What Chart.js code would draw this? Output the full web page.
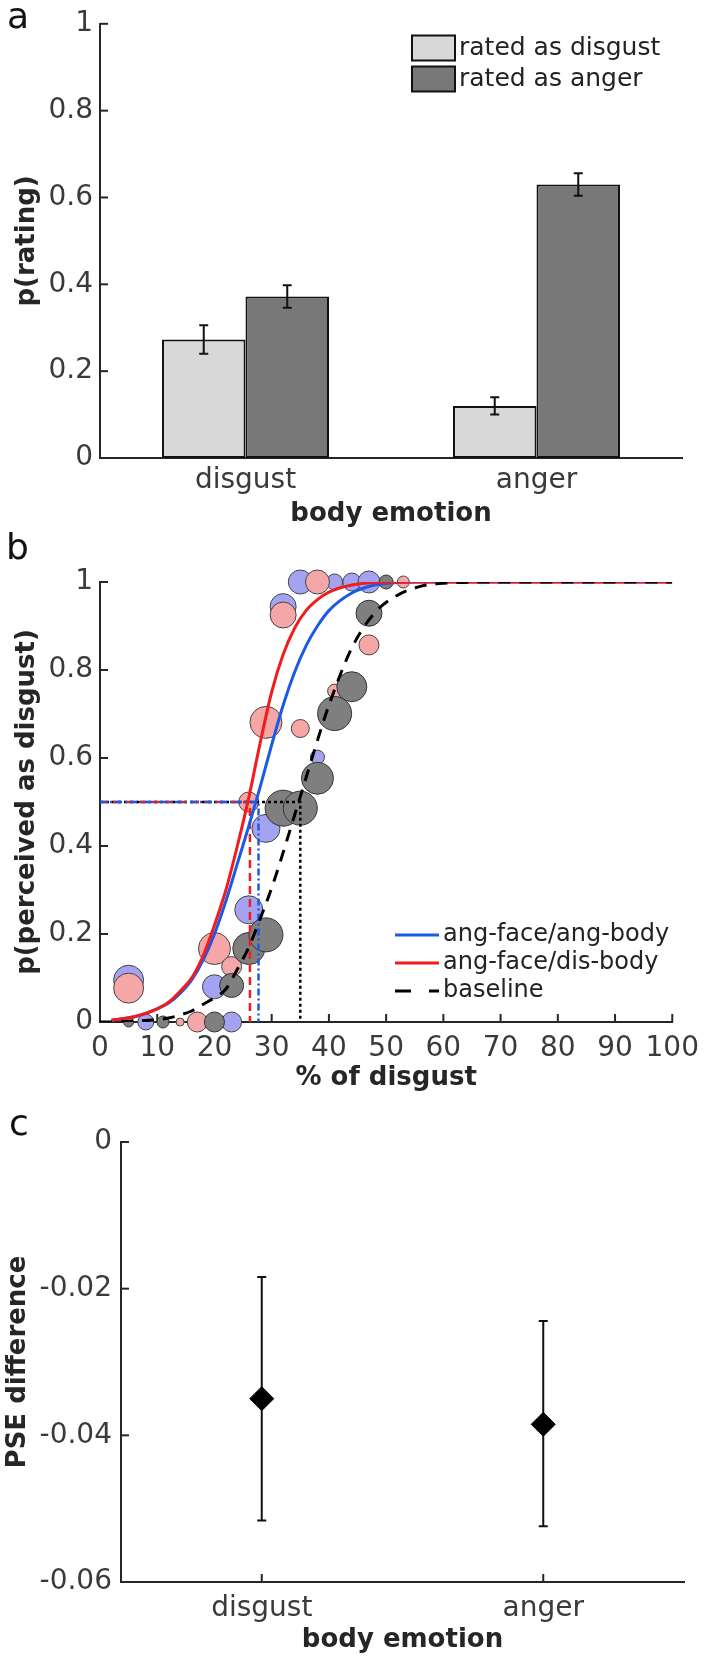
<!DOCTYPE html>
<html>
<head>
<meta charset="utf-8">
<script src="https://cdn.jsdelivr.net/npm/chart.js@4.4.1/dist/chart.umd.min.js"></script>
<style>
  html, body { margin: 0; padding: 0; background: #fff; }
  #page { position: relative; width: 709px; height: 1660px; overflow: hidden; font-family: "DejaVu Sans", sans-serif; }
  canvas { position: absolute; left: 0; }
  .tag { position: absolute; font-size: 36px; line-height: 36px; color: #111; }
</style>
</head>
<body>
<div id="page">
  <canvas id="chartA" width="709" height="530" style="top:0;width:709px;height:530px"></canvas>
  <canvas id="chartB" width="709" height="570" style="top:530px;width:709px;height:570px"></canvas>
  <canvas id="chartC" width="709" height="560" style="top:1100px;width:709px;height:560px"></canvas>
  <div class="tag" style="left:7px;top:-2px">a</div>
  <div class="tag" style="left:6px;top:529px">b</div>
  <div class="tag" style="left:9px;top:1105px">c</div>
</div>
<script>
// ---- panel a : ratings per body emotion
const bodyEmotions = ['disgust', 'anger'];
const ratedDisgust = [0.273, 0.120];
const ratedDisgustErr = [0.033, 0.020];
const ratedAnger = [0.372, 0.630];
const ratedAngerErr = [0.026, 0.026];
const probTicks = [0, 0.2, 0.4, 0.6, 0.8, 1];

// ---- panel b : psychometric data (bubble size = weight)
const pctTicks = [0, 10, 20, 30, 40, 50, 60, 70, 80, 90, 100];
const blueX = [5, 8, 20, 23, 26, 29, 32, 35, 38, 41, 44, 47];
const blueY = [0.095, 0, 0.08, 0, 0.255, 0.44, 0.944, 1, 0.602, 1, 1, 1];
const blueR = [15, 8, 12, 10, 14, 14, 13, 12, 7, 8, 9, 11];
const pinkX = [5, 14, 17, 20, 23, 26, 29, 32, 35, 38, 41, 47, 53];
const pinkY = [0.077, 0, 0, 0.167, 0.126, 0.50, 0.681, 0.925, 0.667, 1, 0.752, 0.857, 1];
const pinkR = [15, 4, 10, 16, 10, 10, 16, 13, 9, 12, 7, 10, 6];
const grayX = [5, 11, 20, 23, 26, 29, 32, 35, 38, 41, 44, 47, 50];
const grayY = [0, 0, 0, 0.083, 0.167, 0.198, 0.486, 0.486, 0.554, 0.701, 0.762, 0.929, 1];
const grayR = [5, 6, 10, 12, 16, 17, 18, 17, 16, 17, 15, 13, 7];

// fitted curves
const fitX    = [0, 2, 6, 10, 12, 14, 16, 18, 20, 22, 24, 26, 28, 30, 32, 34, 36, 38, 40, 44, 48, 52, 56, 60, 70, 80, 90, 100];
const fitBlue = [null, 0.004, 0.012, 0.03, 0.043, 0.065, 0.095, 0.14, 0.20, 0.275, 0.36, 0.445, 0.535, 0.63, 0.72, 0.795, 0.855, 0.90, 0.935, 0.975, 0.993, 0.999, 1, 1, 1, 1, 1, 1];
const fitRed  = [null, 0.004, 0.012, 0.03, 0.045, 0.07, 0.10, 0.15, 0.22, 0.30, 0.40, 0.51, 0.635, 0.75, 0.835, 0.895, 0.935, 0.96, 0.977, 0.993, 0.999, 1, 1, 1, 1, 1, 1, 1];
const fitBase = [0, 0, 0.002, 0.005, 0.009, 0.016, 0.025, 0.04, 0.055, 0.075, 0.12, 0.17, 0.235, 0.305, 0.385, 0.47, 0.555, 0.64, 0.72, 0.85, 0.93, 0.97, 0.99, 0.997, 1, 1, 1, 1];
// PSE per condition: ang-face/ang-body, ang-face/dis-body, baseline
const pse = [27.7, 26.2, 35.0];

// ---- panel c : PSE difference
const pseDiff = [-0.0350, -0.0385];
const pseLow  = [-0.0516, -0.0524];
const pseHigh = [-0.0184, -0.0244];
const pseTicks = [-0.06, -0.04, -0.02, 0];

Chart.defaults.font.family = '"DejaVu Sans", sans-serif';
Chart.defaults.font.size = 28;
Chart.defaults.color = '#3a3a3a';

const axisColor = '#262626';
const axisBorder = { display: true, color: axisColor, width: 2 };
const titleFont = { size: 26, weight: 'bold' };

// matlab style ticks pointing into the plot
const inwardTicks = {
  id: 'inwardTicks',
  beforeDatasetsDraw(chart, args, o) {
    const ctx = chart.ctx, area = chart.chartArea;
    ctx.save();
    ctx.strokeStyle = axisColor;
    ctx.lineWidth = 2;
    (o.axes || []).forEach(id => {
      const s = chart.scales[id];
      s.ticks.forEach((t, i) => {
        const p = s.getPixelForTick(i);
        ctx.beginPath();
        if (s.isHorizontal()) { ctx.moveTo(p, area.bottom); ctx.lineTo(p, area.bottom - o.len); }
        else { ctx.moveTo(area.left, p); ctx.lineTo(area.left + o.len, p); }
        ctx.stroke();
      });
    });
    ctx.restore();
  }
};

function drawErrors(chart, o) {
  const ctx = chart.ctx, ys = chart.scales.y;
  ctx.save();
  ctx.strokeStyle = '#111';
  ctx.lineWidth = 2;
  o.sets.forEach(s => {
    const meta = chart.getDatasetMeta(s.dataset);
    const vals = chart.data.datasets[s.dataset].data;
    meta.data.forEach((el, i) => {
      const lo = ys.getPixelForValue(s.low ? s.low[i] : vals[i] - s.err[i]);
      const hi = ys.getPixelForValue(s.high ? s.high[i] : vals[i] + s.err[i]);
      ctx.beginPath();
      ctx.moveTo(el.x, lo); ctx.lineTo(el.x, hi);
      ctx.moveTo(el.x - o.cap, lo); ctx.lineTo(el.x + o.cap, lo);
      ctx.moveTo(el.x - o.cap, hi); ctx.lineTo(el.x + o.cap, hi);
      ctx.stroke();
    });
  });
  ctx.restore();
}
const errorBars = {
  id: 'errorBars',
  beforeDatasetsDraw(chart, args, o) { if (o.sets && o.under) drawErrors(chart, o); },
  afterDatasetsDraw(chart, args, o) { if (o.sets && !o.under) drawErrors(chart, o); }
};

// legend drawn inside the axes like matlab
const boxLegend = {
  id: 'boxLegend',
  afterDraw(chart, args, o) {
    if (!o.items) return;
    const ctx = chart.ctx;
    ctx.save();
    ctx.font = o.size + 'px "DejaVu Sans"';
    ctx.textBaseline = 'middle';
    o.items.forEach((d, i) => {
      const ds = chart.data.datasets[d];
      const y = o.y + i * o.step;
      if (o.kind === 'box') {
        ctx.fillStyle = ds.backgroundColor;
        ctx.fillRect(o.x, y - o.h / 2, o.w, o.h);
        ctx.strokeStyle = '#111';
        ctx.lineWidth = 2;
        ctx.strokeRect(o.x, y - o.h / 2, o.w, o.h);
      } else {
        ctx.strokeStyle = ds.borderColor;
        ctx.lineWidth = 3;
        ctx.setLineDash(ds.legendDash || []);
        ctx.beginPath();
        ctx.moveTo(o.x, y); ctx.lineTo(o.x + o.w, y);
        ctx.stroke();
        ctx.setLineDash([]);
      }
      ctx.fillStyle = '#222';
      ctx.fillText(ds.label, o.x + o.w + o.gap, y);
    });
    ctx.restore();
  }
};

const setTicks = arr => s => { s.ticks = arr.map(v => ({ value: v })); };
const baseOpts = { responsive: false, animation: false, events: [] };

// ---------------- panel a
new Chart(document.getElementById('chartA'), {
  type: 'bar',
  data: {
    labels: bodyEmotions,
    datasets: [
      { label: 'rated as disgust', data: ratedDisgust, backgroundColor: '#d8d8d8', borderColor: '#111', borderWidth: 2, borderSkipped: false, categoryPercentage: 0.574, barPercentage: 1 },
      { label: 'rated as anger', data: ratedAnger, backgroundColor: '#787878', borderColor: '#111', borderWidth: 2, borderSkipped: false, categoryPercentage: 0.574, barPercentage: 1 }
    ]
  },
  options: {
    ...baseOpts,
    layout: { padding: { top: 18, right: 27, bottom: 0, left: 0 } },
    plugins: {
      legend: { display: false }, tooltip: { enabled: false },
      inwardTicks: { axes: ['y'], len: 8 },
      errorBars: { cap: 4.5, sets: [{ dataset: 0, err: ratedDisgustErr }, { dataset: 1, err: ratedAngerErr }] },
      boxLegend: { kind: 'box', items: [0, 1], x: 412, y: 48, step: 31, w: 43, h: 25, gap: 4, size: 25 }
    },
    scales: {
      x: {
        grid: { display: false, drawTicks: false }, border: axisBorder,
        ticks: { padding: 6 },
        title: { display: true, text: 'body emotion', font: titleFont, color: '#262626', padding: { top: 0, bottom: 0 } },
        afterFit: s => { s.height = 72; }
      },
      y: {
        min: 0, max: 1, afterBuildTicks: setTicks(probTicks),
        grid: { display: false, drawTicks: false }, border: axisBorder,
        ticks: { padding: 7, callback: v => String(v) },
        title: { display: true, text: 'p(rating)', font: titleFont, color: '#262626', padding: { top: 12, bottom: 0 } },
        afterFit: s => { s.width = 100; }
      }
    }
  },
  plugins: [inwardTicks, errorBars, boxLegend]
});

// ---------------- panel b
const pts = (xs, ys, rs) => xs.map((x, i) => ({ x: x, y: ys[i], r: rs[i] }));
const fit = ys => fitX.map((x, i) => ({ x: x, y: ys[i] })).filter(p => p.y !== null);
const pseLine = v => [{ x: 0, y: 0.5 }, { x: v, y: 0.5 }, { x: v, y: 0 }];
const lineBase = { type: 'line', pointRadius: 0, fill: false };

new Chart(document.getElementById('chartB'), {
  type: 'scatter',
  data: {
    datasets: [
      { ...lineBase, label: 'baseline', data: fit(fitBase), borderColor: '#000', borderWidth: 3, borderDash: [12, 9], legendDash: [16, 18], cubicInterpolationMode: 'monotone', order: 1 },
      { ...lineBase, label: 'ang-face/dis-body', data: fit(fitRed), borderColor: '#f21c1c', borderWidth: 3, cubicInterpolationMode: 'monotone', order: 2 },
      { ...lineBase, label: 'ang-face/ang-body', data: fit(fitBlue), borderColor: '#1c5ae6', borderWidth: 3, cubicInterpolationMode: 'monotone', order: 3 },
      { ...lineBase, label: 'pse blue', data: pseLine(pse[0]), borderColor: '#1c5ae6', borderWidth: 2.5, borderDash: [7, 3, 2, 3], order: 4 },
      { ...lineBase, label: 'pse red', data: pseLine(pse[1]), borderColor: '#f21c1c', borderWidth: 2.5, borderDash: [8, 5], order: 5 },
      { ...lineBase, label: 'pse baseline', data: pseLine(pse[2]), borderColor: '#000', borderWidth: 2.5, borderDash: [3, 3], order: 6 },
      { type: 'bubble', label: 'baseline data', data: pts(grayX, grayY, grayR), backgroundColor: '#7f7f7f', borderColor: '#333', borderWidth: 1, clip: false, order: 7 },
      { type: 'bubble', label: 'dis-body data', data: pts(pinkX, pinkY, pinkR), backgroundColor: '#f5a7a7', borderColor: '#444', borderWidth: 1, clip: false, order: 8 },
      { type: 'bubble', label: 'ang-body data', data: pts(blueX, blueY, blueR), backgroundColor: '#a3a3f2', borderColor: '#444', borderWidth: 1, clip: false, order: 9 }
    ]
  },
  options: {
    ...baseOpts,
    layout: { padding: { top: 52, right: 27, bottom: 0, left: 0 } },
    plugins: {
      legend: { display: false }, tooltip: { enabled: false },
      inwardTicks: { axes: ['x', 'y'], len: 8 },
      boxLegend: { kind: 'line', items: [2, 1, 0], x: 395, y: 405, step: 28, w: 44, gap: 4, size: 24 }
    },
    scales: {
      x: {
        type: 'linear', min: 0, max: 100, afterBuildTicks: setTicks(pctTicks),
        grid: { display: false, drawTicks: false }, border: axisBorder,
        ticks: { padding: 10, autoSkip: false, maxRotation: 0, callback: v => String(v) },
        title: { display: true, text: '% of disgust', font: titleFont, color: '#262626', padding: { top: 0, bottom: 6 } },
        afterFit: s => { s.height = 78; }
      },
      y: {
        min: 0, max: 1, afterBuildTicks: setTicks(probTicks),
        grid: { display: false, drawTicks: false }, border: axisBorder,
        ticks: { padding: 7, callback: v => String(v) },
        title: { display: true, text: 'p(perceived as disgust)', font: titleFont, color: '#262626', padding: { top: 12, bottom: 0 } },
        afterFit: s => { s.width = 100; }
      }
    }
  },
  plugins: [inwardTicks, boxLegend]
});

// ---------------- panel c
new Chart(document.getElementById('chartC'), {
  type: 'line',
  data: {
    labels: bodyEmotions,
    datasets: [
      { label: 'PSE difference', data: pseDiff, showLine: false, pointStyle: 'rectRot', pointRadius: 12, backgroundColor: '#000', borderColor: '#000', borderWidth: 1 }
    ]
  },
  options: {
    ...baseOpts,
    layout: { padding: { top: 42, right: 25, bottom: 0, left: 0 } },
    plugins: {
      legend: { display: false }, tooltip: { enabled: false },
      inwardTicks: { axes: ['x', 'y'], len: 8 },
      errorBars: { under: true, cap: 4.5, sets: [{ dataset: 0, low: pseLow, high: pseHigh }] }
    },
    scales: {
      x: {
        offset: true,
        grid: { display: false, drawTicks: false }, border: axisBorder,
        ticks: { padding: 10 },
        title: { display: true, text: 'body emotion', font: titleFont, color: '#262626', padding: { top: 0, bottom: 4 } },
        afterFit: s => { s.height = 78; }
      },
      y: {
        min: -0.06, max: 0, afterBuildTicks: setTicks(pseTicks),
        grid: { display: false, drawTicks: false }, border: axisBorder,
        ticks: { padding: 9, callback: v => String(v) },
        title: { display: true, text: 'PSE difference', font: titleFont, color: '#262626', padding: { top: 3, bottom: 0 } },
        afterFit: s => { s.width = 121; }
      }
    }
  },
  plugins: [inwardTicks, errorBars]
});
</script>
</body>
</html>
